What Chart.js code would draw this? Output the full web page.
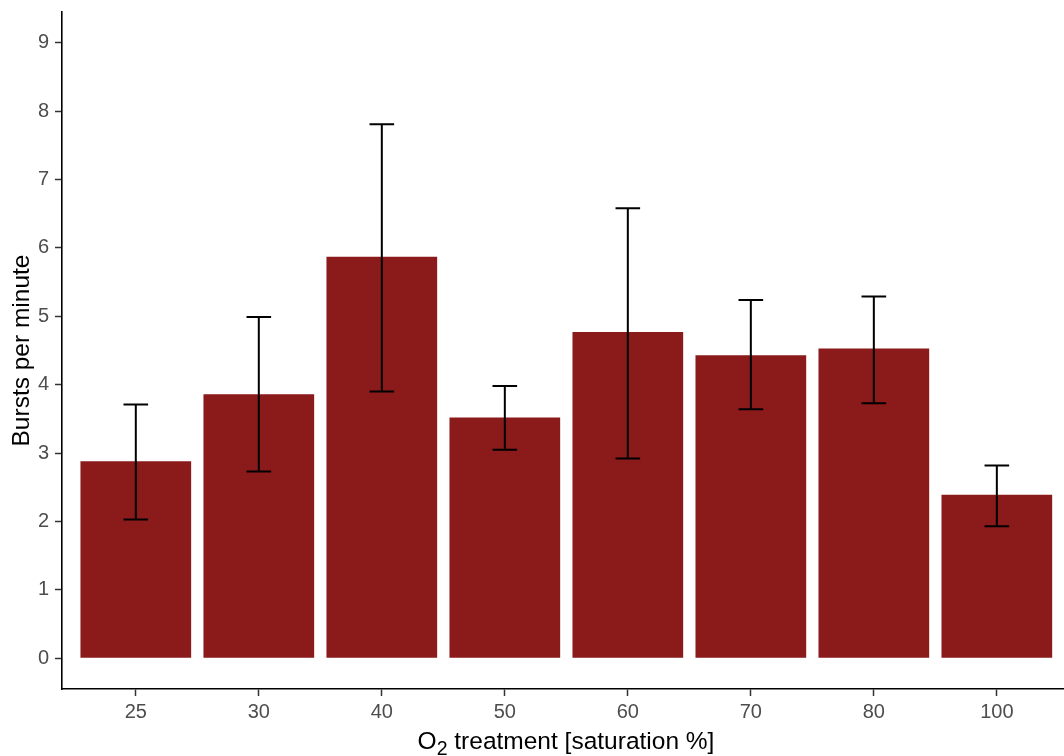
<!DOCTYPE html>
<html>
<head>
<meta charset="utf-8">
<script src="https://cdn.jsdelivr.net/npm/chart.js@4/dist/chart.umd.min.js"></script>
<style>
  html, body { margin: 0; padding: 0; background: #ffffff; }
  #wrap { width: 1064px; height: 756px; position: relative; }
</style>
</head>
<body>
<div id="wrap"><canvas id="chart"></canvas></div>
<script>
// --- datos ---
const categories = ['25', '30', '40', '50', '60', '70', '80', '100'];
const burstsMean = [2.88, 3.86, 5.87, 3.52, 4.77, 4.43, 4.53, 2.39];
const errLower   = [2.03, 2.73, 3.90, 3.05, 2.92, 3.64, 3.73, 1.93];
const errUpper   = [3.71, 4.99, 7.81, 3.98, 6.58, 5.24, 5.29, 2.82];
const yTicks     = [0, 1, 2, 3, 4, 5, 6, 7, 8, 9];

const FONT = "'Liberation Sans', Arial, sans-serif";
const BAR_COLOR = '#8B1A1A';

// barras de error tipo ggplot (geom_errorbar, width = 0.2)
const errorBarPlugin = {
    id: 'errorBars',
    afterDatasetsDraw(chart) {
        const ctx = chart.ctx;
        const xs = chart.scales.x;
        const ys = chart.scales.y;
        const halfCap = (xs.getPixelForValue(1.1) - xs.getPixelForValue(1));
        ctx.save();
        ctx.strokeStyle = '#000000';
        ctx.lineWidth = 2;
        categories.forEach((c, i) => {
            const px = xs.getPixelForValue(i + 1);
            const top = ys.getPixelForValue(errUpper[i]);
            const bot = ys.getPixelForValue(errLower[i]);
            ctx.beginPath();
            ctx.moveTo(px, top); ctx.lineTo(px, bot);
            ctx.moveTo(px - halfCap, top); ctx.lineTo(px + halfCap, top);
            ctx.moveTo(px - halfCap, bot); ctx.lineTo(px + halfCap, bot);
            ctx.stroke();
        });
        ctx.restore();
    }
};

// títulos de los ejes (con subíndice en O2)
const axisTitlePlugin = {
    id: 'axisTitles',
    afterDraw(chart) {
        const ctx = chart.ctx;
        const area = chart.chartArea;
        ctx.save();
        ctx.fillStyle = '#000000';

        // eje Y
        ctx.save();
        ctx.translate(29, (area.top + area.bottom) / 2);
        ctx.rotate(-Math.PI / 2);
        ctx.font = '24.5px ' + FONT;
        ctx.textAlign = 'center';
        ctx.textBaseline = 'alphabetic';
        ctx.fillText('Bursts per minute', 0, 0);
        ctx.restore();

        // eje X
        const big = '24.5px ' + FONT;
        const small = '19.5px ' + FONT;
        const partA = 'O', partSub = '2', partB = ' treatment [saturation %]';
        ctx.font = big;
        const wA = ctx.measureText(partA).width;
        const wB = ctx.measureText(partB).width;
        ctx.font = small;
        const wSub = ctx.measureText(partSub).width;
        const total = wA + wSub + wB;
        let x = 566 - total / 2;
        const base = 749;
        ctx.textAlign = 'left';
        ctx.textBaseline = 'alphabetic';
        ctx.font = big;
        ctx.fillText(partA, x, base);
        x += wA;
        ctx.font = small;
        ctx.fillText(partSub, x, base + 6);
        x += wSub;
        ctx.font = big;
        ctx.fillText(partB, x, base);
        ctx.restore();
    }
};

new Chart(document.getElementById('chart'), {
    type: 'bar',
    data: {
        datasets: [{
            label: 'Bursts per minute',
            data: burstsMean.map((v, i) => ({ x: i + 1, y: v })),
            backgroundColor: BAR_COLOR,
            borderWidth: 0,
            barPercentage: 0.9,
            categoryPercentage: 1.0
        }]
    },
    options: {
        responsive: true,
        maintainAspectRatio: false,
        animation: false,
        layout: { padding: { top: 12, right: 0, left: 0, bottom: 0 } },
        plugins: {
            legend: { display: false },
            tooltip: { enabled: false }
        },
        scales: {
            x: {
                type: 'linear',
                offset: false,
                min: 0.4,
                max: 8.546,
                afterBuildTicks: s => { s.ticks = categories.map((c, i) => ({ value: i + 1 })); },
                afterFit: s => { s.height = 67; s.paddingLeft = 0; s.paddingRight = 0; },
                grid: {
                    offset: false,
                    drawOnChartArea: false,
                    drawTicks: true,
                    tickLength: 7,
                    tickColor: '#333333',
                    tickWidth: 1.5
                },
                border: { color: '#000000', width: 1.6 },
                ticks: {
                    color: '#4D4D4D',
                    padding: 4,
                    maxRotation: 0,
                    font: { family: FONT, size: 20 },
                    callback: v => categories[v - 1]
                }
            },
            y: {
                min: -0.45,
                max: 9.45,
                afterBuildTicks: s => { s.ticks = yTicks.map(v => ({ value: v })); },
                afterFit: s => { s.width = 62; s.paddingTop = 0; s.paddingBottom = 0; },
                grid: {
                    drawOnChartArea: false,
                    drawTicks: true,
                    tickLength: 7,
                    tickColor: '#333333',
                    tickWidth: 1.5
                },
                border: { color: '#000000', width: 1.6 },
                ticks: {
                    color: '#4D4D4D',
                    padding: 6,
                    font: { family: FONT, size: 20 }
                }
            }
        }
    },
    plugins: [errorBarPlugin, axisTitlePlugin]
});
</script>
</body>
</html>
